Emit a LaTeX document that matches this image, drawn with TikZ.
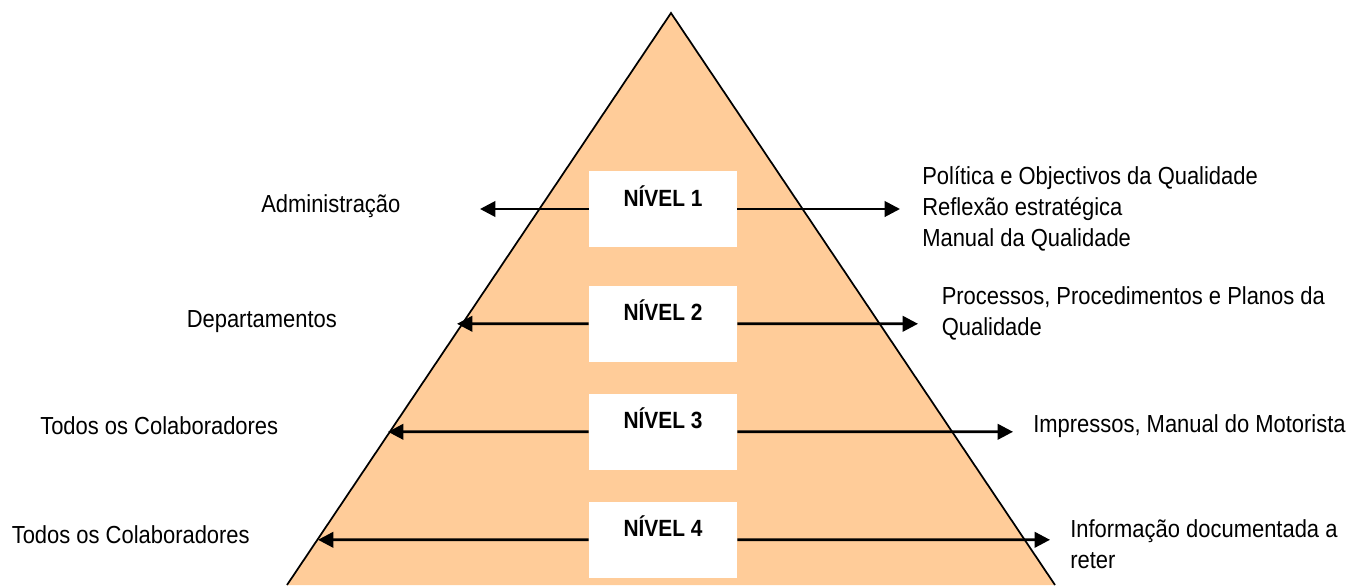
\documentclass[tikz,border=0pt]{standalone}
\usepackage{fontspec}
\setmainfont{Liberation Sans}[FakeStretch=0.89]
\usetikzlibrary{arrows.meta}
\definecolor{pyrfill}{RGB}{255,204,153}

\begin{document}
\begin{tikzpicture}[x=0.75pt, y=-0.75pt, node distance=81pt,
		lvl/.style={fill=white, inner sep=0pt, minimum width=111pt, text height=26.25pt, text depth=30.75pt, font=\fontsize{17.6}{21}\selectfont\bfseries},
		txt/.style={anchor=base west, align=left, inner sep=0pt, font=\fontsize{18.5}{23.25}\selectfont},
		arr/.style={line width=2.1pt, -{Triangle[length=11.5pt, width=11.5pt]}}]
			\useasboundingbox (0,0) rectangle (1348,585);

			% pyramid
			\fill[pyrfill] (287,585) -- (671,13) -- (1055,585) -- cycle;
			\draw[line width=1.3pt] (287,585) -- (671,13) -- (1055,585);

			\node[lvl] (n1) at (663,209) {NÍVEL 1};
			\node[lvl] (n2)[below of = n1, yshift=-5.1pt] {NÍVEL 2};
			\node[lvl] (n3)[below of = n2] {NÍVEL 3};
			\node[lvl] (n4)[below of = n3] {NÍVEL 4};

			\coordinate (l1) at (480,209);
			\coordinate (r1) at (900,209);
			\coordinate (l2) at (457,323.8);
			\coordinate (r2) at (918,323.8);
			\coordinate (l3) at (388,431.8);
			\coordinate (r3) at (1013,431.8);
			\coordinate (l4) at (318,539.8);
			\coordinate (r4) at (1050,539.8);

			\node[txt] (t1l) at (261,212.3) {Administração};
			\node[txt] (t2l) at (186.5,327.7) {Departamentos};
			\node[txt] (t3l) at (40,434.3) {Todos os Colaboradores};
			\node[txt] (t4l) at (11.5,543.3) {Todos os Colaboradores};

			% multi-line nodes: base is the last line
			\node[txt] (t1r) at (922,246.7) {Política e Objectivos da Qualidade\\Reflexão estratégica\\Manual da Qualidade};
			\node[txt] (t2r) at (941.5,335.7) {Processos, Procedimentos e Planos da\\Qualidade};
			\node[txt] (t3r) at (1033,432.3) {Impressos, Manual do Motorista};
			\node[txt] (t4r) at (1070,568.3) {Informação documentada a\\reter};

			\path[arr]
				(n1) edge (l1)
				(n1) edge (r1)
				(n2) edge (l2)
				(n2) edge (r2)
				(n3) edge (l3)
				(n3) edge (r3)
				(n4) edge (l4)
				(n4) edge (r4)
			;
		\end{tikzpicture}
\end{document}
